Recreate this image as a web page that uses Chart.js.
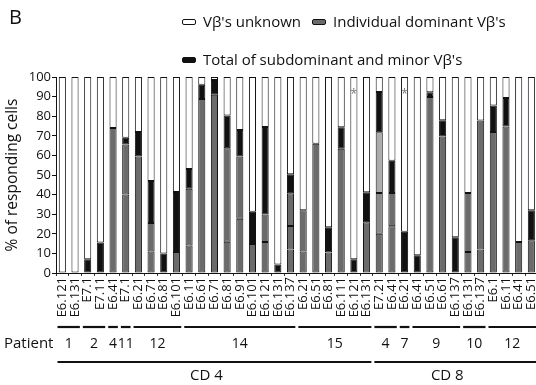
<!DOCTYPE html>
<html>
<head>
<meta charset="utf-8">
<script src="https://cdn.jsdelivr.net/npm/chart.js@4"></script>
<style>
  body { margin: 0; width: 536px; height: 385px; overflow: hidden; background: #fff; font-family: "Open Sans", sans-serif; color: #111; }
  #wrap { position: absolute; left: 0; top: 0; width: 548px; height: 385px; }
  .panel { position: absolute; left: 9px; top: 3px; font-size: 20px; }
  .key { position: absolute; width: 12px; height: 4px; border: 1px solid #111; border-radius: 2px; }
  .txt { position: absolute; font-size: 15px; line-height: 18px; white-space: nowrap; }
</style>
</head>
<body>
<div id="wrap"><canvas id="chart" width="548" height="385"></canvas></div>
<div class="panel">B</div>
<div class="key" style="left:182px;top:19px;background:#fff"></div>
<div class="txt" style="left:203px;top:12px">Vβ's unknown</div>
<div class="key" style="left:312px;top:19px;background:#6b6b6b"></div>
<div class="txt" style="left:333px;top:12px">Individual dominant Vβ's</div>
<div class="key" style="left:182px;top:57px;background:#111"></div>
<div class="txt" style="left:203px;top:50px">Total of subdominant and minor Vβ's</div>
<script>
// clone labels, left to right
const clones = ['E6.121','E6.131','E7.1','E7.11','E6.41','E7.1','E6.21','E6.71','E6.81','E6.101',
  'E6.11','E6.61','E6.71','E6.81','E6.91','E6.101','E6.121','E6.131','E6.137',
  'E6.21','E6.51','E6.81','E6.111','E6.121','E6.131',
  'E7.21','E6.41','E6.21','E6.41','E6.51','E6.61','E6.137','E6.131','E6.137','E6.1','E6.11','E6.41','E6.51'];

// individual dominant Vb's (up to three stacked per clone)
const dominant1 = [null,null,null,null,74,40,59.5,11,null,10.7,14,88.8,91,16,27.7,14.8,15.8,null,12,11,66,10.5,63.4,null,25.9,20,23.8,null,null,89.8,69.7,null,10.7,12,72,74.8,15.8,16.7];
const dominant2 = [null,null,null,null,null,25.5,null,14.5,null,null,29,null,null,47.6,31.8,null,14,null,12,21,null,null,null,null,null,20.8,17,null,null,null,null,null,30.1,65.8,null,null,null,null];
const dominant3 = [null,null,null,null,null,null,null,null,null,null,null,null,null,null,null,null,null,null,16.7,null,null,null,null,null,null,31,null,null,null,null,null,null,null,null,null,null,null,null];
// total of subdominant and minor Vb's
const minor = [null,null,7,15.5,null,3.5,12.5,21.5,10,30.6,10,7.3,7.5,16.7,13.5,16.5,44.7,4.3,9.7,null,null,12.8,11,7,15.3,20.5,16.5,21,9,2.4,8.2,18.2,null,null,13.4,14.5,null,15.3];

const patients = ['1','2','4','11','12','14','15','4','7','9','10','12'];
const patientSizes = [2,2,1,1,4,9,6,2,1,4,2,4];
const subsets = ['CD 4','CD 8'];
const subsetSizes = [25,13];
const starred = [23,27];
const starValue = 92;

// remaining share of responding cells
const unknown = clones.map((_, i) =>
  100 - [dominant1, dominant2, dominant3, minor].reduce((s, a) => s + (a[i] || 0), 0));

const GRAY = '#6b6b6b';
const font = { family: '"Open Sans", sans-serif', size: 13 };

const brackets = {
  id: 'brackets',
  afterDraw(chart) {
    const x = chart.scales.x, y = chart.scales.y, c = chart.ctx;
    const half = (x.getPixelForValue(1) - x.getPixelForValue(0)) / 2;
    c.save();
    c.fillStyle = '#111';
    c.strokeStyle = '#111';
    c.textBaseline = 'middle';
    c.font = '15px "Open Sans", sans-serif';
    c.textAlign = 'left';
    c.fillText('Patient', 4, 344);
    c.textAlign = 'center';
    const row = (names, sizes, ly, ty, gap, shift) => {
      let start = 0;
      names.forEach((n, k) => {
        const end = start + sizes[k] - 1;
        const a = x.getPixelForValue(start) - half + gap;
        const b = x.getPixelForValue(end) + half - gap;
        c.lineWidth = 2.2;
        c.beginPath(); c.moveTo(a, ly); c.lineTo(b, ly); c.stroke();
        c.fillText(n, (a + b) / 2 + shift, ty);
        start = end + 1;
      });
    };
    c.font = '14px "Open Sans", sans-serif';
    row(patients, patientSizes, 327, 344, 1.5, 0);
    c.font = '15px "Open Sans", sans-serif';
    row(subsets, subsetSizes, 362, 376, 1.5, -8);
    c.fillStyle = '#777';
    c.font = '12px "Open Sans", sans-serif';
    starred.forEach(i => c.fillText('*', x.getPixelForValue(i), y.getPixelForValue(starValue) + 2));
    c.restore();
  }
};

const shade = (normal, special) => ctx => ctx.dataIndex === 25 ? special : normal;
const seg = (data, color) => ({
  data, backgroundColor: color, borderColor: '#111', borderWidth: 1,
  borderSkipped: false, barPercentage: 0.56, categoryPercentage: 1
});

new Chart(document.getElementById('chart'), {
  type: 'bar',
  data: {
    labels: clones,
    datasets: [
      seg(dominant1, GRAY),
      seg(dominant2, shade(GRAY, '#8a8a8a')),
      seg(dominant3, shade(GRAY, '#ababab')),
      seg(minor, '#111'),
      seg(unknown, '#fff')
    ]
  },
  options: {
    responsive: false,
    animation: false,
    layout: { padding: { top: 77, right: 4, bottom: 62, left: 0 } },
    plugins: { legend: { display: false }, tooltip: { enabled: false } },
    scales: {
      x: {
        stacked: true,
        grid: { drawOnChartArea: false, tickLength: 3, color: '#333', offset: true },
        border: { color: '#111', width: 1 },
        ticks: { autoSkip: false, minRotation: 90, maxRotation: 90, padding: 1, color: '#111', font },
        afterFit(s) { s.height = 50; }
      },
      y: {
        stacked: true,
        min: 0,
        max: 100,
        grid: { drawOnChartArea: false, tickLength: 4, color: '#111' },
        border: { color: '#111', width: 1 },
        ticks: { stepSize: 10, padding: 1, color: '#111', font },
        title: { display: true, text: '% of responding cells', color: '#111',
          font: { family: '"Open Sans", sans-serif', size: 15.5 }, padding: { top: 3, bottom: 0 } },
        afterFit(s) { s.width = 56; }
      }
    }
  },
  plugins: [brackets]
});
</script>
</body>
</html>
